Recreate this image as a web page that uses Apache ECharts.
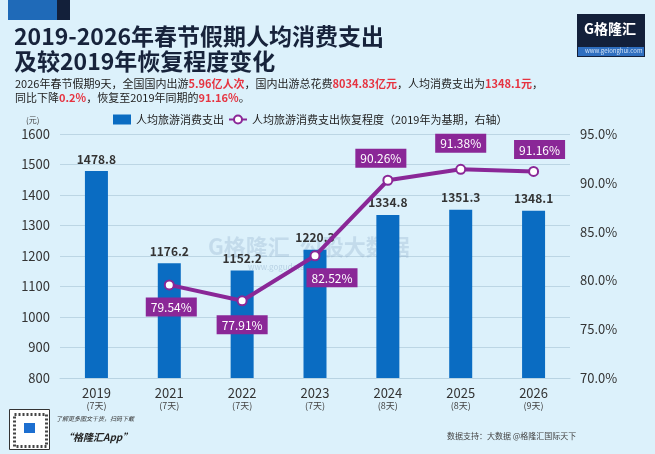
<!DOCTYPE html>
<html>
<head>
<meta charset="utf-8">
<script src="https://cdn.jsdelivr.net/npm/echarts@6/dist/echarts.min.js"></script>
<style>
  html, body { margin: 0; padding: 0; background: #dcf1fb; }
  #chartSpend { width: 655px; height: 454px; }
</style>
</head>
<body>
<div id="chartSpend"></div>
<script>
var years = ['2019', '2021', '2022', '2023', '2024', '2025', '2026'];
var holidayDays = ['(7天)', '(7天)', '(7天)', '(7天)', '(8天)', '(8天)', '(9天)'];
var spendData = [1478.8, 1176.2, 1152.2, 1220.3, 1334.8, 1351.3, 1348.1];
var recoveryData = [null, 79.54, 77.91, 82.52, 90.26, 91.38, 91.16];
var leftTicks = [800, 1600, 100];
var rightTicks = [70, 95, 5];

var cjk = '"Noto Sans CJK SC", "Noto Sans", sans-serif';
var purple = '#8a2797';
var barBlue = '#0a6cc2';

// label placement for the recovery line (per point)
var recoveryLabelPos = [
  null,
  { position: 'bottom', offset: [2, 2] },
  { position: 'bottom', offset: [0, 4] },
  { position: 'bottom', offset: [17, 2] },
  { position: 'top', offset: [-7, -2] },
  { position: 'top', offset: [0, -6] },
  { position: 'top', offset: [6, -2] }
];

var lineData = recoveryData.map(function(v, i) {
  if (v === null) return null;
  var p = recoveryLabelPos[i];
  return { value: v, label: { position: p.position, offset: p.offset } };
});

var option = {
  backgroundColor: '#dcf1fb',
  textStyle: { fontFamily: cjk },
  grid: { left: 60, right: 85, top: 134, bottom: 76 },
  legend: {
    top: 109,
    left: 108,
    itemGap: 4,
    itemWidth: 18,
    itemHeight: 10,
    textStyle: { color: '#222', fontSize: 11, fontFamily: cjk },
    data: [
      { name: '人均旅游消费支出', icon: 'rect' },
      { name: '人均旅游消费支出恢复程度（2019年为基期，右轴）' }
    ]
  },
  xAxis: {
    type: 'category',
    data: years,
    axisLine: { show: true, lineStyle: { color: '#b8d3e2' } },
    axisTick: { show: false },
    axisLabel: {
      color: '#333',
      margin: 8,
      formatter: function(val, idx) {
        return '{y|' + val + '}\n{d|' + holidayDays[idx] + '}';
      },
      rich: {
        y: { fontSize: 13, color: '#333', fontFamily: cjk, lineHeight: 14 },
        d: { fontSize: 9, color: '#444', fontFamily: cjk, lineHeight: 12 }
      }
    }
  },
  yAxis: [
    {
      type: 'value',
      min: leftTicks[0],
      max: leftTicks[1],
      interval: leftTicks[2],
      axisLine: { show: false },
      axisTick: { show: false },
      splitLine: { lineStyle: { color: '#bcd6e4' } },
      axisLabel: {
        color: '#333',
        fontSize: 13,
        margin: 10,
        formatter: function(val) {
          return String(val);
        }
      }
    },
    {
      type: 'value',
      min: rightTicks[0],
      max: rightTicks[1],
      interval: rightTicks[2],
      axisLine: { show: false },
      axisTick: { show: false },
      splitLine: { show: false },
      axisLabel: {
        color: '#333',
        fontSize: 13,
        margin: 10,
        formatter: function(val) {
          return val.toFixed(1) + '%';
        }
      }
    }
  ],
  series: [
    {
      name: '人均旅游消费支出',
      type: 'bar',
      yAxisIndex: 0,
      data: spendData,
      barWidth: 23,
      itemStyle: { color: barBlue },
      label: {
        show: true,
        position: 'top',
        distance: 6,
        color: '#333',
        fontSize: 12,
        fontWeight: 'bold',
        formatter: function(p) {
          return p.value.toFixed(1);
        }
      },
      z: 2
    },
    {
      name: '人均旅游消费支出恢复程度（2019年为基期，右轴）',
      type: 'line',
      yAxisIndex: 1,
      data: lineData,
      symbol: 'circle',
      symbolSize: 9,
      showAllSymbol: true,
      lineStyle: { width: 4, color: purple },
      itemStyle: { color: '#fff', borderColor: purple, borderWidth: 2 },
      label: {
        show: true,
        color: '#fff',
        fontSize: 12,
        backgroundColor: purple,
        padding: [4, 5, 3, 5],
        formatter: function(p) {
          return p.value.toFixed(2) + '%';
        }
      },
      z: 5
    }
  ],
  graphic: [
    { type: 'rect', left: 8, top: 0, shape: { width: 49, height: 20 }, style: { fill: '#1f6ab8' } },
    { type: 'rect', left: 57, top: 0, shape: { width: 13, height: 20 }, style: { fill: '#13203a' } },
    {
      type: 'text', left: 14, top: 25,
      style: { text: '2019-2026年春节假期人均消费支出', fill: '#17233b', font: 'bold 23px ' + cjk }
    },
    {
      type: 'text', left: 14, top: 50,
      style: { text: '及较2019年恢复程度变化', fill: '#17233b', font: 'bold 23px ' + cjk }
    },
    {
      type: 'text', left: 15, top: 78,
      style: {
        text: '{n|2026年春节假期9天，全国国内出游}{r|5.96亿人次}{n|，国内出游总花费}{r|8034.83亿元}{n|，人均消费支出为}{r|1348.1元}{n|，}\n{n|同比下降}{r|0.2%}{n|，恢复至2019年同期的}{r|91.16%}{n|。}',
        rich: {
          n: { fill: '#222', fontSize: 11, fontFamily: cjk, lineHeight: 14 },
          r: { fill: '#e63340', fontSize: 11, fontWeight: 'bold', fontFamily: cjk, lineHeight: 14 }
        }
      }
    },
    {
      type: 'text', left: 26, top: 116,
      style: { text: '(元)', fill: '#444', font: '8px ' + cjk }
    },
    // logo
    { type: 'rect', left: 577, top: 14, shape: { width: 68, height: 43 }, style: { fill: '#13203a' } },
    { type: 'rect', left: 578, top: 47, shape: { width: 66, height: 9 }, style: { fill: '#2f6fc0' } },
    {
      type: 'text', left: 584, top: 22,
      style: { text: 'G格隆汇', fill: '#fff', font: 'bold 14px ' + cjk }
    },
    {
      type: 'text', left: 585, top: 48,
      style: { text: 'www.gelonghui.com', fill: '#cfe0f5', font: '6px ' + cjk }
    },
    // watermark
    {
      type: 'text', left: 208, top: 236, z: 1,
      style: { text: 'G格隆汇  勾股大数据', fill: 'rgba(140,170,200,0.3)', font: 'bold 22px ' + cjk }
    },
    {
      type: 'text', left: 248, top: 263, z: 1,
      style: { text: 'www.gogudata.com', fill: 'rgba(140,170,200,0.45)', font: '8px ' + cjk }
    },
    // QR placeholder and app text
    { type: 'rect', left: 9, top: 409, shape: { width: 40, height: 40 }, style: { fill: '#fff', stroke: '#333', lineWidth: 1 } },
    { type: 'rect', left: 13, top: 413, shape: { width: 32, height: 32 }, style: { fill: 'rgba(0,0,0,0)', stroke: '#444', lineWidth: 3, lineDash: [2, 2] } },
    { type: 'rect', left: 24, top: 423, shape: { width: 11, height: 10 }, style: { fill: '#1d6fd0' } },
    {
      type: 'text', left: 56, top: 416,
      style: { text: '了解更多图文干货，扫码下载', fill: '#333', font: 'italic 6px ' + cjk }
    },
    {
      type: 'text', left: 63, top: 432,
      style: { text: '“格隆汇App”', fill: '#222', font: 'italic bold 10px ' + cjk }
    },
    {
      type: 'text', left: 447, top: 432,
      style: { text: '数据支持：大数据 @格隆汇国际天下', fill: '#444', font: '8px ' + cjk }
    }
  ]
};

var chartSpend = echarts.init(document.getElementById('chartSpend'));
chartSpend.setOption(option);
</script>
</body>
</html>
